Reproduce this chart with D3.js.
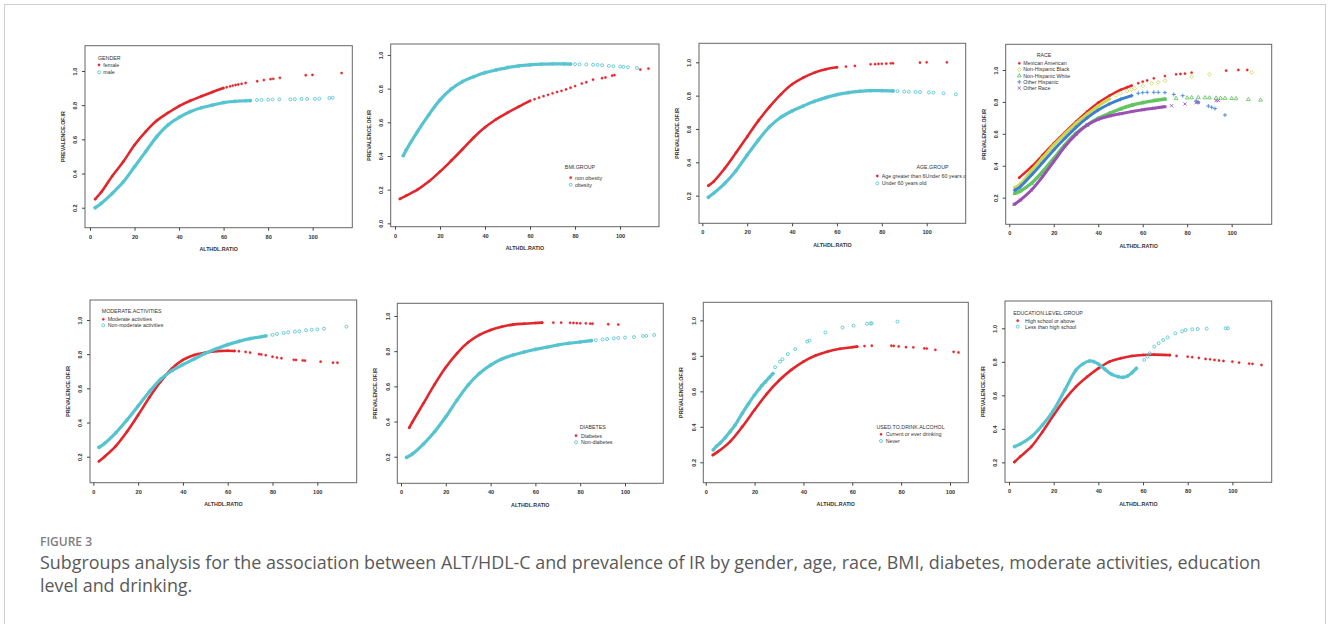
<!DOCTYPE html>
<html>
<head>
<meta charset="utf-8">
<script src="https://cdn.jsdelivr.net/npm/d3@7"></script>
<style>
  body { margin: 0; background: #fff; }
  svg text { font-family: "Liberation Sans", Arial, sans-serif; }
</style>
</head>
<body>
<svg id="fig" width="1328" height="624"></svg>
<script>
// values: [ALT/HDL ratio, prevalence of IR]
const xTicks = [0, 20, 40, 60, 80, 100];
const yTicks = [0.2, 0.4, 0.6, 0.8, 1.0];
const yTicksFull = [0.0, 0.2, 0.4, 0.6, 0.8, 1.0];
const xTitle = "ALTHDL.RATIO";
const yTitle = "PREVALENCE.OF.IR";

const genderTitle = "GENDER";
const genderLabels = ["female", "male"];
const female = [[2.3,0.25],[5,0.29],[10,0.385],[15,0.47],[20,0.567],[25,0.645],[30,0.71],[35,0.755],[40,0.795],[45,0.826],[50,0.852],[55,0.877],[59.9,0.9],[61.4,0.905],[62.9,0.91],[64.1,0.914],[65.4,0.918],[66.6,0.921],[68.1,0.925],[69.9,0.93],[75.1,0.94],[78.1,0.947],[81.1,0.952],[82.3,0.954],[85.3,0.96],[96.9,0.975],[99.9,0.977],[113,0.988]];
const male = [[2.3,0.2],[5,0.225],[10,0.284],[15,0.352],[20,0.44],[25,0.528],[30,0.616],[35,0.684],[40,0.729],[45,0.762],[50,0.785],[55,0.8],[60,0.815],[65,0.822],[70,0.826],[72,0.827],[75,0.83],[77,0.831],[80,0.832],[82,0.833],[85,0.834],[90,0.834],[92,0.835],[95,0.836],[97.5,0.836],[101,0.837],[103,0.838],[107.5,0.842],[109,0.844]];

const bmiTitle = "BMI.GROUP";
const bmiLabels = ["non obesity", "obesity"];
const nonObese = [[2.2,0.145],[5,0.164],[10,0.2],[15,0.248],[20,0.307],[25,0.372],[30,0.44],[35,0.51],[40,0.57],[45,0.618],[50,0.657],[55,0.693],[60,0.727],[62,0.737],[64,0.746],[66,0.755],[68,0.763],[70,0.772],[72,0.78],[74,0.787],[76,0.795],[78,0.805],[80,0.815],[83,0.83],[85,0.838],[88,0.853],[92,0.862],[93.5,0.866],[96.5,0.877],[97.5,0.88],[109,0.913],[112.6,0.919]];
const obese = [[3.7,0.402],[5,0.436],[10,0.545],[15,0.644],[20,0.733],[25,0.798],[30,0.842],[35,0.871],[40,0.895],[45,0.911],[50,0.925],[55,0.935],[60,0.941],[65,0.945],[70,0.947],[75,0.947],[78,0.946],[80,0.945],[82,0.944],[85,0.943],[88,0.942],[90,0.941],[92,0.939],[95,0.935],[97,0.933],[100,0.931],[101.5,0.929],[103.5,0.927],[107.5,0.923]];

const ageTitle = "AGE.GROUP";
const ageLabels = ["Age greater than 6Under 60 years old", "Under 60 years old"];
const ageOlder = [[2.7,0.26],[5,0.284],[10,0.364],[15,0.458],[20,0.554],[25,0.65],[30,0.734],[35,0.808],[40,0.868],[45,0.908],[50,0.938],[55,0.958],[60,0.97],[64,0.974],[68,0.978],[75,0.988],[77,0.989],[78.5,0.99],[80,0.991],[82,0.992],[84,0.994],[85,0.994],[97,0.998],[100,1.0],[109,1.0]];
const ageUnder60 = [[2.7,0.19],[5,0.214],[10,0.274],[15,0.35],[20,0.444],[25,0.534],[30,0.614],[35,0.67],[40,0.708],[45,0.738],[50,0.766],[55,0.788],[60,0.806],[65,0.818],[70,0.826],[75,0.83],[80,0.83],[85,0.828],[87,0.827],[90,0.824],[92,0.823],[95,0.822],[97,0.821],[101,0.819],[103,0.818],[107.5,0.814],[113,0.808]];

const raceTitle = "RACE";
const raceLabels = ["Mexican American", "Non-Hispanic Black", "Non-Hispanic White", "Other Hispanic", "Other Race"];
const mexican = [[4.5,0.325],[10,0.394],[15,0.467],[20,0.54],[25,0.609],[30,0.676],[35,0.739],[40,0.795],[45,0.839],[50,0.875],[53,0.892],[55,0.902],[58,0.917],[60,0.927],[62,0.934],[65,0.948],[70,0.962],[75,0.973],[77,0.975],[79,0.977],[82,0.983],[97.5,0.996],[103,1.0],[107,1.0]];
const nhBlack = [[2.5,0.263],[5,0.286],[10,0.37],[15,0.45],[20,0.53],[25,0.6],[30,0.666],[35,0.722],[40,0.774],[45,0.818],[48,0.84],[50,0.854],[53,0.868],[55,0.879],[56.5,0.885],[60,0.9],[64,0.916],[67,0.923],[70,0.933],[82,0.958],[90,0.973],[109,0.985]];
const nhWhite = [[2.5,0.227],[5,0.242],[10,0.29],[15,0.363],[20,0.446],[25,0.53],[30,0.603],[35,0.655],[40,0.697],[45,0.728],[50,0.756],[55,0.779],[60,0.795],[65,0.808],[70,0.818],[75,0.822],[80,0.826],[82,0.827],[85,0.828],[88,0.827],[90,0.826],[93,0.825],[95,0.824],[97,0.823],[100,0.822],[102,0.821],[107.5,0.816],[113,0.812]];
const otherHispanic = [[2.5,0.246],[5,0.269],[10,0.342],[15,0.42],[20,0.499],[25,0.572],[30,0.641],[35,0.7],[40,0.749],[45,0.787],[50,0.816],[55,0.839],[58,0.854],[60,0.858],[62,0.86],[65,0.86],[67,0.86],[70,0.858],[74,0.847],[78,0.839],[84,0.806],[85,0.797],[89.5,0.774],[91,0.766],[92.5,0.758],[97,0.718]];
const otherRace = [[2.2,0.158],[5,0.185],[10,0.248],[15,0.332],[20,0.426],[25,0.52],[30,0.597],[35,0.655],[40,0.691],[45,0.712],[50,0.726],[55,0.739],[60,0.751],[65,0.76],[68,0.766],[70,0.77],[73,0.776],[79,0.787],[84,0.795],[85,0.797],[93,0.808],[94,0.808]];

const activityTitle = "MODERATE.ACTIVITIES";
const activityLabels = ["Moderate activities", "Non-moderate activities"];
const moderate = [[2.5,0.173],[5,0.2],[10,0.262],[15,0.346],[20,0.444],[25,0.547],[30,0.639],[35,0.715],[40,0.766],[45,0.795],[50,0.809],[55,0.818],[60,0.82],[63,0.819],[65,0.817],[68,0.813],[70,0.809],[74,0.8],[75,0.798],[77,0.794],[80,0.785],[82,0.78],[84,0.776],[89.5,0.767],[90.5,0.766],[93.5,0.763],[94.5,0.762],[101.5,0.756],[107,0.75],[109,0.75]];
const nonModerate = [[2.5,0.255],[5,0.278],[10,0.34],[15,0.415],[20,0.497],[25,0.58],[30,0.653],[35,0.703],[40,0.739],[45,0.772],[50,0.805],[55,0.832],[60,0.856],[65,0.875],[70,0.891],[75,0.902],[77,0.907],[80,0.913],[82,0.918],[85,0.924],[87,0.928],[90,0.932],[92,0.934],[95,0.94],[97.5,0.943],[100,0.945],[103,0.949],[113,0.961]];

const diabetesTitle = "DIABETES";
const diabetesLabels = ["Diabetes", "Non-diabetes"];
const diabetes = [[3.7,0.365],[5,0.395],[10,0.503],[15,0.611],[20,0.708],[25,0.788],[30,0.85],[35,0.892],[40,0.92],[45,0.939],[50,0.951],[55,0.956],[60,0.96],[63,0.962],[68,0.962],[71.5,0.962],[75.5,0.961],[77,0.96],[78.5,0.959],[80,0.958],[82.5,0.958],[84.5,0.956],[85.5,0.956],[92.5,0.953],[97,0.951]];
const nonDiabetes = [[2.5,0.196],[5,0.215],[10,0.272],[15,0.342],[20,0.427],[25,0.522],[30,0.608],[35,0.674],[40,0.721],[45,0.755],[50,0.778],[55,0.795],[60,0.81],[65,0.822],[70,0.835],[75,0.845],[80,0.852],[85,0.86],[87,0.862],[90,0.867],[92,0.869],[95,0.873],[97,0.875],[100,0.877],[104,0.88],[108,0.886],[109.5,0.887],[113,0.892]];

const alcoholTitle = "USED.TO.DRINK.ALCOHOL";
const alcoholLabels = ["Current or ever drinking", "Never"];
const everDrink = [[2.9,0.241],[5,0.26],[10,0.317],[15,0.401],[20,0.496],[25,0.586],[30,0.661],[35,0.721],[40,0.768],[45,0.802],[50,0.825],[55,0.84],[60,0.849],[62,0.852],[65,0.855],[68,0.857],[76,0.857],[77,0.856],[79,0.853],[82,0.849],[85,0.848],[89.5,0.842],[90.5,0.841],[94,0.834],[101.5,0.823],[103.5,0.819]];
const neverDrink = [[3.1,0.27],[4.5,0.292],[6,0.31],[8,0.34],[10,0.373],[12,0.41],[15,0.477],[17.5,0.53],[20,0.58],[22,0.615],[23,0.633],[24.5,0.655],[26,0.678],[27.5,0.7],[28.4,0.736],[30.4,0.768],[31.4,0.781],[33.6,0.81],[36.6,0.838],[41.5,0.881],[42.5,0.887],[49,0.932],[56,0.96],[60.5,0.97],[66,0.981],[67.5,0.983],[68,0.983],[78.5,0.993]];

const educationTitle = "EDUCATION.LEVEL.GROUP";
const educationLabels = ["High school or above", "Less than high school"];
const highSchool = [[2.4,0.202],[5,0.234],[10,0.294],[15,0.383],[20,0.483],[25,0.576],[30,0.652],[35,0.711],[40,0.761],[45,0.801],[50,0.821],[55,0.835],[60,0.841],[65,0.843],[70,0.841],[72,0.84],[75,0.835],[80,0.831],[82,0.828],[85,0.823],[88,0.817],[90,0.815],[92,0.811],[94,0.808],[96,0.805],[100,0.801],[103,0.795],[107.5,0.789],[109,0.788],[113,0.781]];
const lessHighSchool = [[2.5,0.294],[5,0.309],[10,0.353],[15,0.423],[20,0.512],[25,0.632],[30,0.751],[33,0.787],[36,0.805],[38,0.801],[40,0.787],[43,0.755],[46,0.725],[49,0.711],[51,0.707],[53,0.715],[55,0.735],[57,0.761],[60.5,0.811],[62,0.831],[63,0.851],[65,0.891],[67,0.911],[69,0.93],[71,0.946],[74.5,0.97],[77.5,0.982],[79,0.99],[82,0.994],[84.5,0.996],[88.5,0.998],[97,1.0],[98,1.0]];

const figureLabel = "FIGURE 3";
const captionLines = [
  "Subgroups analysis for the association between ALT/HDL-C and prevalence of IR by gender, age, race, BMI, diabetes, moderate activities, education",
  "level and drinking."
];

// colours and marker types
const RED = "#e2262c", CYAN = "#55c4d0";
const shapes = {
  dot: () => d3.symbol().type(d3.symbolCircle).size(4.2)(),
  circle: () => "M1.5,0A1.5,1.5 0 1,1 -1.5,0A1.5,1.5 0 1,1 1.5,0Z",
  diamond: () => "M0,-1.9L1.9,0L0,1.9L-1.9,0Z",
  triangle: () => "M0,-2.1L1.9,1.2L-1.9,1.2Z",
  plus: () => "M-2,0H2M0,-2V2",
  cross: () => "M-1.6,-1.6L1.6,1.6M-1.6,1.6L1.6,-1.6"
};
const filled = { dot: true };

const panels = [
  { box: [85, 45.7, 352.3, 227.7], xd: [-2.25, 117.8], yd: [0.083, 1.148], yt: yTicks,
    legend: { title: genderTitle, labels: genderLabels, tx: 109.3, ty: 57.7, sx: 99, lx: 103.3, iy: 65, step: 7.3 },
    series: [ { pts: female, color: RED, shape: "dot", band: 2.6, dense: 60 },
              { pts: male, color: CYAN, shape: "circle", band: 3.2, dense: 72 } ] },
  { box: [390.7, 44, 659, 226.7], xd: [-1.9, 117.3], yd: [-0.02, 1.065], yt: yTicksFull,
    legend: { title: bmiTitle, labels: bmiLabels, tx: 580, ty: 166.7, sx: 570.7, lx: 575, iy: 177.7, step: 7 },
    series: [ { pts: nonObese, color: RED, shape: "dot", band: 2.6, dense: 60 },
              { pts: obese, color: CYAN, shape: "circle", band: 3.2, dense: 78 } ] },
  { box: [699, 43.3, 965.7, 223.3], xd: [-1.5, 117.4], yd: [0.034, 1.114], yt: yTicks,
    legend: { title: ageTitle, labels: ageLabels, tx: 932.5, ty: 166.7, sx: 877.3, lx: 881.7, iy: 176, step: 7.3 },
    series: [ { pts: ageOlder, color: RED, shape: "dot", band: 2.6, dense: 60 },
              { pts: ageUnder60, color: CYAN, shape: "circle", band: 3.2, dense: 85 } ] },
  { box: [1005.7, 44.3, 1271.7, 224.3], xd: [-1.6, 118], yd: [0.033, 1.161], yt: yTicks,
    legend: { title: raceTitle, labels: raceLabels, tx: 1044, ty: 55, sx: 1019.3, lx: 1023.3, iy: 63.3, step: 6.2 },
    series: [ { pts: mexican, color: RED, shape: "dot", band: 2.4, dense: 55 },
              { pts: nhBlack, color: "#cbd84c", shape: "diamond", band: 3, dense: 45 },
              { pts: nhWhite, color: "#62c462", shape: "triangle", band: 3.4, dense: 72 },
              { pts: otherHispanic, color: "#3b7fd1", shape: "plus", band: 3, dense: 55 },
              { pts: otherRace, color: "#9a4fb3", shape: "cross", band: 3, dense: 70 } ] },
  { box: [90, 300, 356.7, 482.7], xd: [-1.5, 117.6], yd: [0.048, 1.117], yt: yTicks,
    legend: { title: activityTitle, labels: activityLabels, tx: 131.7, ty: 311, sx: 103.3, lx: 107.7, iy: 319.3, step: 6 },
    series: [ { pts: moderate, color: RED, shape: "dot", band: 2.6, dense: 63 },
              { pts: nonModerate, color: CYAN, shape: "circle", band: 3.2, dense: 78 } ] },
  { box: [397.3, 303.3, 663.3, 483.3], xd: [-1.65, 117.1], yd: [0.049, 1.072], yt: yTicks,
    legend: { title: diabetesTitle, labels: diabetesLabels, tx: 592.8, ty: 427.3, sx: 576, lx: 581, iy: 435.7, step: 6.6 },
    series: [ { pts: diabetes, color: RED, shape: "dot", band: 2.6, dense: 63 },
              { pts: nonDiabetes, color: CYAN, shape: "circle", band: 3.2, dense: 85 } ] },
  { box: [703.3, 302.3, 968.3, 482.7], xd: [-1.0, 107.5], yd: [0.085, 1.102], yt: yTicks,
    legend: { title: alcoholTitle, labels: alcoholLabels, tx: 910.5, ty: 426.7, sx: 881, lx: 885.7, iy: 434.3, step: 6.7 },
    series: [ { pts: everDrink, color: RED, shape: "dot", band: 2.6, dense: 62 },
              { pts: neverDrink, color: CYAN, shape: "circle", band: 3.2, dense: 28 } ] },
  { box: [1005, 301, 1271.7, 482.3], xd: [-1.8, 117.6], yd: [0.081, 1.163], yt: yTicks,
    legend: { title: educationTitle, labels: educationLabels, tx: 1048, ty: 312.7, sx: 1017.7, lx: 1025, iy: 320.7, step: 6 },
    series: [ { pts: highSchool, color: RED, shape: "dot", band: 2.6, dense: 72 },
              { pts: lessHighSchool, color: CYAN, shape: "circle", band: 3.2, dense: 57 } ] }
];

const svg = d3.select("#fig");
const defs = svg.append("defs");

svg.append("rect").attr("width", 1328).attr("height", 624).attr("fill", "#fff");
svg.append("rect")
  .attr("x", 4.5).attr("y", 4.5).attr("width", 1321).attr("height", 700)
  .attr("fill", "none").attr("stroke", "#cfcfcf").attr("stroke-width", 1);

function mark(sel, shape, color) {
  sel.attr("d", shapes[shape]())
    .attr("fill", filled[shape] ? color : "none")
    .attr("stroke", color)
    .attr("stroke-width", filled[shape] ? 0.4 : 0.85);
}

panels.forEach((p, i) => {
  const [x0, y0, x1, y1] = p.box;
  const x = d3.scaleLinear().domain(p.xd).range([x0, x1]);
  const y = d3.scaleLinear().domain(p.yd).range([y1, y0]);
  const g = svg.append("g");

  defs.append("clipPath").attr("id", "clip" + i)
    .append("rect").attr("x", x0).attr("y", y0).attr("width", x1 - x0).attr("height", y1 - y0);
  const plot = g.append("g").attr("clip-path", `url(#clip${i})`);

  p.series.forEach(s => {
    // the dense part of the predicted points merges into a thick band
    const dense = s.pts.filter(d => d[0] <= s.dense);
    plot.append("path")
      .datum(dense)
      .attr("d", d3.line().x(d => x(d[0])).y(d => y(d[1])).curve(d3.curveCatmullRom))
      .attr("fill", "none")
      .attr("stroke", s.color)
      .attr("stroke-width", s.band)
      .attr("stroke-linecap", "round");
    plot.append("g").selectAll("path")
      .data(s.pts)
      .join("path")
      .attr("transform", d => `translate(${x(d[0])},${y(d[1])})`)
      .call(mark, s.shape, s.color);
  });

  // legend (clipped to plot region like base R)
  const lg = p.legend;
  plot.append("text")
    .attr("x", lg.tx).attr("y", lg.ty).attr("dy", "0.35em")
    .attr("text-anchor", "middle")
    .attr("font-size", 5.3).attr("fill", "#333")
    .text(lg.title);
  lg.labels.forEach((lab, k) => {
    const yy = lg.iy + k * lg.step;
    plot.append("path")
      .attr("transform", `translate(${lg.sx},${yy})`)
      .call(mark, p.series[k].shape, p.series[k].color);
    plot.append("text")
      .attr("x", lg.lx).attr("y", yy).attr("dy", "0.35em")
      .attr("font-size", 5.3).attr("fill", "#333")
      .text(lab);
  });

  // box
  g.append("rect")
    .attr("x", x0).attr("y", y0).attr("width", x1 - x0).attr("height", y1 - y0)
    .attr("fill", "none").attr("stroke", "#666").attr("stroke-width", 1);

  // x axis
  const xa = g.append("g").attr("transform", `translate(0,${y1})`)
    .call(d3.axisBottom(x).tickValues(xTicks).tickSize(3).tickFormat(d3.format("d")));
  xa.select(".domain").remove();
  xa.selectAll("line").attr("stroke", "#444");
  xa.selectAll("text").attr("y", 11.2).attr("dy", 0)
    .attr("font-size", 5.6).attr("font-weight", "bold").attr("fill", "#333")
    .attr("font-family", "Liberation Sans, Arial, sans-serif");

  // y axis, labels parallel to the axis
  const ya = g.append("g").attr("transform", `translate(${x0},0)`)
    .call(d3.axisLeft(y).tickValues(p.yt).tickSize(3).tickFormat(d3.format(".1f")));
  ya.select(".domain").remove();
  ya.selectAll("line").attr("stroke", "#444");
  ya.selectAll("text").attr("x", 0).attr("dy", 0)
    .attr("text-anchor", "middle")
    .attr("transform", "translate(-7.8,0) rotate(-90)")
    .attr("font-size", 5.6).attr("font-weight", "bold").attr("fill", "#333")
    .attr("font-family", "Liberation Sans, Arial, sans-serif");

  // axis titles
  g.append("text")
    .attr("x", (x0 + x1) / 2).attr("y", y1 + 23.2)
    .attr("text-anchor", "middle")
    .attr("font-size", 5.3).attr("font-weight", "bold").attr("fill", "#333")
    .text(xTitle);
  g.append("text")
    .attr("transform", `translate(${x0 - 20.2},${(y0 + y1) / 2}) rotate(-90)`)
    .attr("text-anchor", "middle")
    .attr("font-size", 5.3).attr("font-weight", "bold").attr("fill", "#333")
    .text(yTitle);
});

// caption
svg.append("text")
  .attr("x", 40).attr("y", 546)
  .style("font-family", "'Open Sans', sans-serif")
  .attr("font-size", 12).attr("font-weight", 600).attr("fill", "#808080")
  .text(figureLabel);
svg.append("g").selectAll("text")
  .data(captionLines)
  .join("text")
  .attr("x", 40).attr("y", (d, k) => 568.5 + k * 23.5)
  .style("font-family", "'Open Sans', sans-serif")
  .attr("font-size", 17.9).attr("fill", "#595959")
  .text(d => d);
</script>
</body>
</html>
